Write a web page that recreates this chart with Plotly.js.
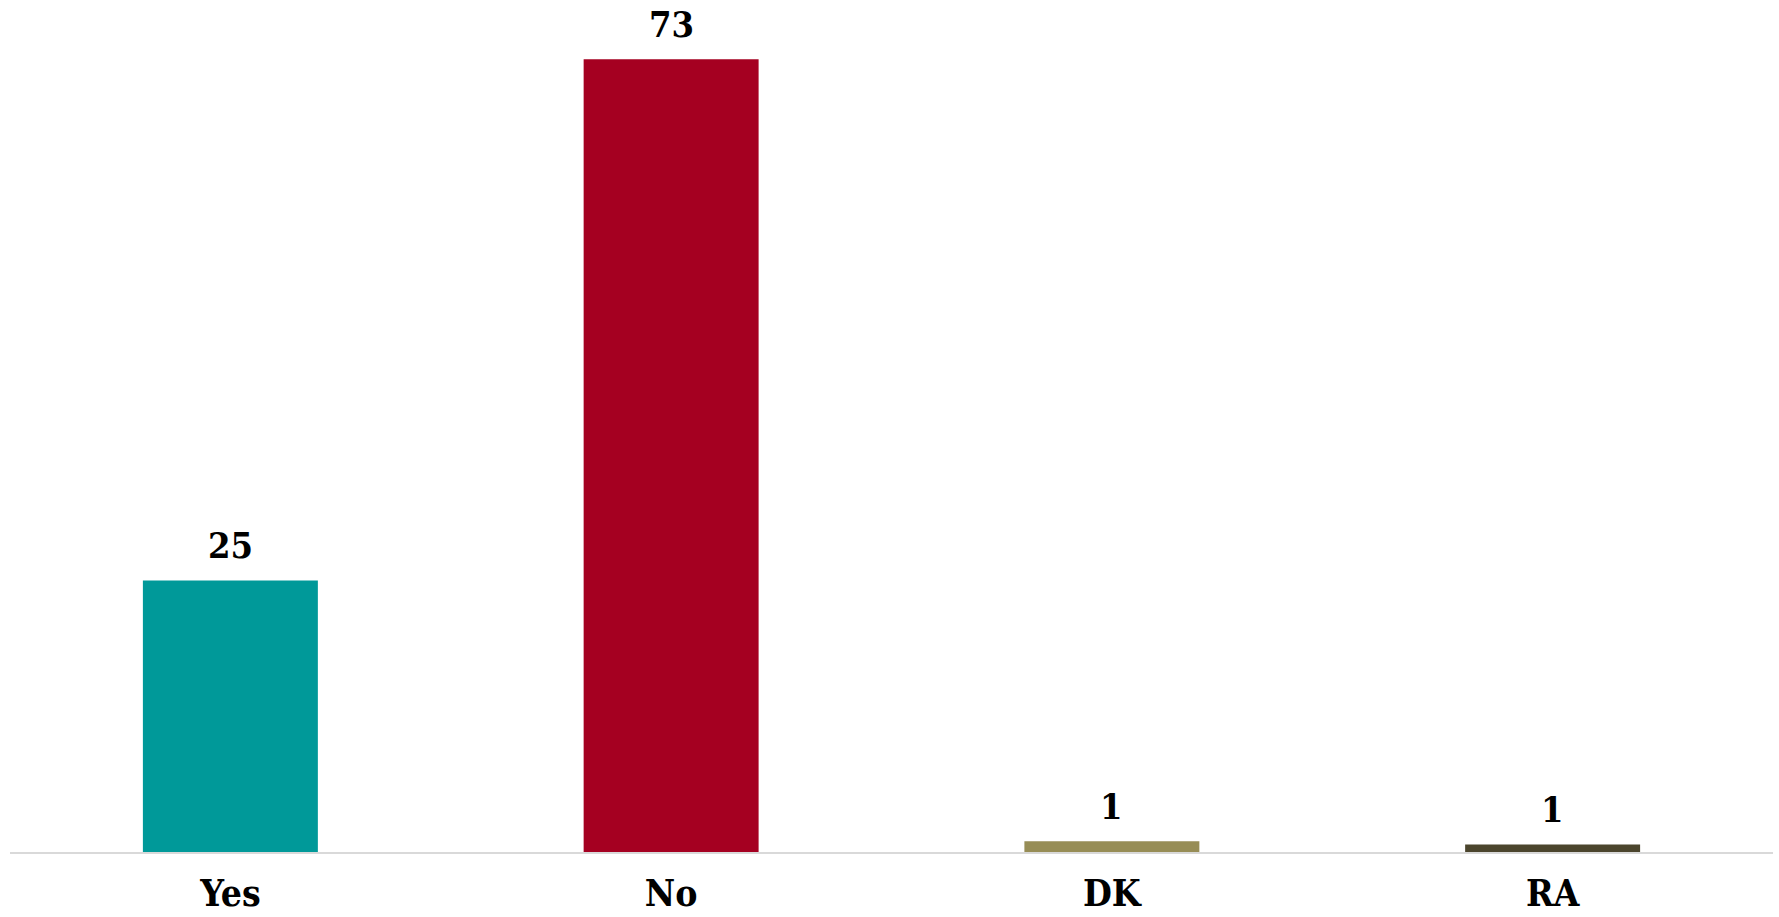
<!DOCTYPE html>
<html>
<head>
<meta charset="utf-8">
<script src="https://cdn.plot.ly/plotly-3.0.1.min.js"></script>
<style>html,body{margin:0;padding:0;background:#fff;}#chart{width:1779px;height:917px;}</style>
</head>
<body>
<div id="chart"></div>
<script>
const categories = ["Yes", "No", "DK", "RA"];
const values = [25, 73, 1.0, 0.7];
const valueLabels = ["25", "73", "1", "1"];
const barColors = ["#009999", "#a50021", "#978d56", "#4b452d"];

const FONT = "DejaVu Serif Condensed, DejaVu Serif, serif";

const trace = {
  type: "bar",
  x: categories,
  y: values,
  marker: {color: barColors},
  width: 0.397,
  hoverinfo: "skip"
};

const annotations = categories.map((c, i) => ({
  x: c,
  y: values[i],
  xref: "x",
  yref: "y",
  text: valueLabels[i],
  showarrow: false,
  yanchor: "bottom",
  xanchor: "center",
  yshift: 12,
  font: {family: FONT, size: 36, color: "#000000", weight: "bold"}
}));

const layout = {
  width: 1779,
  height: 917,
  margin: {l: 10, r: 6, t: 0, b: 65},
  paper_bgcolor: "#ffffff",
  plot_bgcolor: "#ffffff",
  showlegend: false,
  annotations: annotations,
  xaxis: {
    range: [-0.5, 3.5],
    showgrid: false,
    zeroline: false,
    showline: true,
    linecolor: "#d9d9d9",
    linewidth: 2,
    ticks: "",
    tickfont: {family: FONT, size: 37, color: "#000000", weight: "bold"},
    ticklabelstandoff: 8
  },
  yaxis: {
    range: [0, 78.45],
    visible: false,
    showgrid: false,
    zeroline: false
  }
};

Plotly.newPlot("chart", [trace], layout, {displayModeBar: false, staticPlot: true});
</script>
</body>
</html>
